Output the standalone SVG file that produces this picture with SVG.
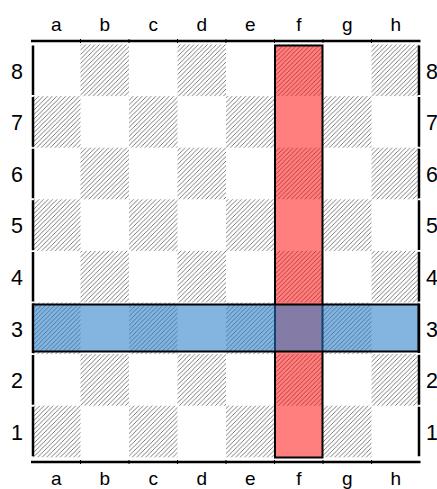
<svg xmlns="http://www.w3.org/2000/svg" width="437" height="489" viewBox="0 0 437 489">
<defs>
<pattern id="hatch" patternUnits="userSpaceOnUse" width="4.5" height="4.5">
<path d="M-1,1 l2,-2 M0,4.5 l4.5,-4.5 M3.5,5.5 l2,-2" stroke="#6e6e6e" stroke-width="0.9"/>
</pattern>
</defs>
<style>
.file{font-family:"Liberation Sans",Arial,sans-serif;font-size:19px;text-anchor:middle;fill:#000}
.rank{font-family:"Liberation Sans",Arial,sans-serif;font-size:21.5px;fill:#000}
.dark{fill:url(#hatch)}
.edge{stroke:#000;stroke-width:2.5}
.hl{stroke:#000;stroke-width:2}
</style>
<rect width="437" height="489" fill="#fff"/>
<g id="board">
<g id="squares">
<rect class="dark" x="80.5" y="44.5" width="48.5" height="51.6"/>
<rect class="dark" x="177.5" y="44.5" width="48.5" height="51.6"/>
<rect class="dark" x="274.5" y="44.5" width="48.5" height="51.6"/>
<rect class="dark" x="371.5" y="44.5" width="48.5" height="51.6"/>
<rect class="dark" x="32" y="96.1" width="48.5" height="51.6"/>
<rect class="dark" x="129" y="96.1" width="48.5" height="51.6"/>
<rect class="dark" x="226" y="96.1" width="48.5" height="51.6"/>
<rect class="dark" x="323" y="96.1" width="48.5" height="51.6"/>
<rect class="dark" x="80.5" y="147.7" width="48.5" height="51.6"/>
<rect class="dark" x="177.5" y="147.7" width="48.5" height="51.6"/>
<rect class="dark" x="274.5" y="147.7" width="48.5" height="51.6"/>
<rect class="dark" x="371.5" y="147.7" width="48.5" height="51.6"/>
<rect class="dark" x="32" y="199.3" width="48.5" height="51.6"/>
<rect class="dark" x="129" y="199.3" width="48.5" height="51.6"/>
<rect class="dark" x="226" y="199.3" width="48.5" height="51.6"/>
<rect class="dark" x="323" y="199.3" width="48.5" height="51.6"/>
<rect class="dark" x="80.5" y="250.9" width="48.5" height="51.6"/>
<rect class="dark" x="177.5" y="250.9" width="48.5" height="51.6"/>
<rect class="dark" x="274.5" y="250.9" width="48.5" height="51.6"/>
<rect class="dark" x="371.5" y="250.9" width="48.5" height="51.6"/>
<rect class="dark" x="32" y="302.5" width="48.5" height="51.6"/>
<rect class="dark" x="129" y="302.5" width="48.5" height="51.6"/>
<rect class="dark" x="226" y="302.5" width="48.5" height="51.6"/>
<rect class="dark" x="323" y="302.5" width="48.5" height="51.6"/>
<rect class="dark" x="80.5" y="354.1" width="48.5" height="51.6"/>
<rect class="dark" x="177.5" y="354.1" width="48.5" height="51.6"/>
<rect class="dark" x="274.5" y="354.1" width="48.5" height="51.6"/>
<rect class="dark" x="371.5" y="354.1" width="48.5" height="51.6"/>
<rect class="dark" x="32" y="405.7" width="48.5" height="51.6"/>
<rect class="dark" x="129" y="405.7" width="48.5" height="51.6"/>
<rect class="dark" x="226" y="405.7" width="48.5" height="51.6"/>
<rect class="dark" x="323" y="405.7" width="48.5" height="51.6"/>
</g>
<g id="frame">
<line class="edge" x1="31" y1="41" x2="420.5" y2="41"/>
<line class="edge" x1="31" y1="462" x2="420.5" y2="462"/>
<path d="M80.5,39v4 M129,39v4 M177.5,39v4 M226,39v4 M274.5,39v4 M323,39v4 M371.5,39v4 M80.5,460v4 M129,460v4 M177.5,460v4 M226,460v4 M274.5,460v4 M323,460v4 M371.5,460v4" stroke="#000" stroke-width="1"/>
<path class="edge" d="M33,45.5v49.6 M33,97.1v49.6 M33,148.7v49.6 M33,200.3v49.6 M33,251.9v49.6 M33,303.5v49.6 M33,355.1v49.6 M33,406.7v49.6"/>
<path class="edge" d="M419,45.5v49.6 M419,97.1v49.6 M419,148.7v49.6 M419,200.3v49.6 M419,251.9v49.6 M419,303.5v49.6 M419,355.1v49.6 M419,406.7v49.6"/>
</g>
<g id="file-labels">
<text class="file" x="56.3" y="31">a</text>
<text class="file" x="104.8" y="31">b</text>
<text class="file" x="153.3" y="31">c</text>
<text class="file" x="201.8" y="31">d</text>
<text class="file" x="250.3" y="31">e</text>
<text class="file" x="298.8" y="31">f</text>
<text class="file" x="347.3" y="31">g</text>
<text class="file" x="395.8" y="31">h</text>
<text class="file" x="56.3" y="485">a</text>
<text class="file" x="104.8" y="485">b</text>
<text class="file" x="153.3" y="485">c</text>
<text class="file" x="201.8" y="485">d</text>
<text class="file" x="250.3" y="485">e</text>
<text class="file" x="298.8" y="485">f</text>
<text class="file" x="347.3" y="485">g</text>
<text class="file" x="395.8" y="485">h</text>
</g>
<g id="rank-labels">
<text class="rank" x="11" y="78.5">8</text>
<text class="rank" x="11" y="130.1">7</text>
<text class="rank" x="11" y="181.7">6</text>
<text class="rank" x="11" y="233.3">5</text>
<text class="rank" x="11" y="284.9">4</text>
<text class="rank" x="11" y="336.5">3</text>
<text class="rank" x="11" y="388.1">2</text>
<text class="rank" x="11" y="439.7">1</text>
<text class="rank" x="426" y="78.5">8</text>
<text class="rank" x="426" y="130.1">7</text>
<text class="rank" x="426" y="181.7">6</text>
<text class="rank" x="426" y="233.3">5</text>
<text class="rank" x="426" y="284.9">4</text>
<text class="rank" x="426" y="336.5">3</text>
<text class="rank" x="426" y="388.1">2</text>
<text class="rank" x="426" y="439.7">1</text>
</g>
</g>
<g id="file-f-highlight">
<rect class="hl" x="275" y="45.5" width="47.5" height="412" fill="#ff0000" fill-opacity="0.5"/>
</g>
<g id="rank-3-highlight">
<rect class="hl" x="33" y="304.5" width="385.5" height="47" fill="#1f78c8" fill-opacity="0.55"/>
</g>
</svg>
